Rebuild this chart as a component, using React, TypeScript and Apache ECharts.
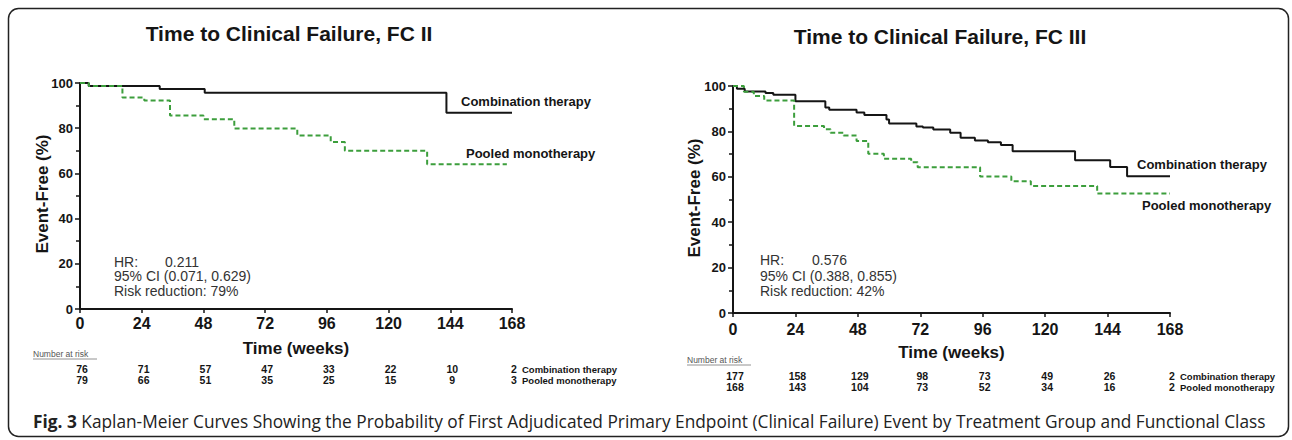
import React, { useEffect, useRef } from "react";
import * as echarts from "echarts";

// ---------- data ----------
const weekTicks = [0, 24, 48, 72, 96, 120, 144, 168];

// FC II
const fc2ComboTimes = [0, 3.4, 31, 48.5, 142.5, 168];
const fc2ComboValues = [100, 98.7, 97.3, 95.7, 86.8, 86.8];
const fc2PooledTimes = [0, 3.4, 16.5, 25, 35, 48, 60, 84.5, 97.5, 103, 135, 166];
const fc2PooledValues = [100, 98.7, 93.6, 92.3, 85.6, 84.0, 79.9, 76.8, 73.9, 70.0, 64.0, 64.0];

// FC III
const fc3ComboTimes = [0, 1.5, 4.5, 12.5, 15.5, 24, 35.5, 37, 47.5, 50.5, 59, 60, 70.5, 73, 77, 83.5, 87.5, 93, 98, 103, 107.5, 131.5, 145, 151.5, 168];
const fc3ComboValues = [100, 98.8, 97.6, 96.9, 96.2, 93.3, 90.5, 89.5, 88.3, 87.2, 85.2, 83.5, 82.2, 81.7, 80.8, 79.4, 77.2, 76.0, 75.2, 74.0, 71.3, 67.3, 64.3, 60.2, 60.2];
const fc3PooledTimes = [0, 4.2, 8, 12, 23.5, 35, 37.5, 42.5, 47.5, 52, 58, 68.5, 71, 95, 107, 114.5, 140, 168];
const fc3PooledValues = [100, 97.5, 95.6, 93.6, 82.4, 81.0, 79.4, 78.2, 75.8, 70.2, 67.9, 66.4, 64.2, 60.1, 58.0, 56.0, 52.6, 52.6];

const fc2RiskCombo = [76, 71, 57, 47, 33, 22, 10, 2];
const fc2RiskPooled = [79, 66, 51, 35, 25, 15, 9, 3];
const fc3RiskCombo = [177, 158, 129, 98, 73, 49, 26, 2];
const fc3RiskPooled = [168, 143, 104, 73, 52, 34, 16, 2];

const panelTitles = ["Time to Clinical Failure, FC II", "Time to Clinical Failure, FC III"];
const hrValues = ["0.211", "0.576"];
const ciTexts = ["95% CI (0.071, 0.629)", "95% CI (0.388, 0.855)"];
const riskReductionTexts = ["Risk reduction: 79%", "Risk reduction: 42%"];
const groupNames = ["Combination therapy", "Pooled monotherapy"];
const captionBold = "Fig. 3";
const captionText =
  " Kaplan-Meier Curves Showing the Probability of First Adjudicated Primary Endpoint (Clinical Failure) Event by Treatment Group and Functional Class";

const FONT = "'Liberation Sans', Arial, Helvetica, sans-serif";
const CAPTION_FONT = "'Open Sans', 'Noto Sans', sans-serif";
const BLACK = "#151515";
const GREEN = "#3c9e3c";

const pairs = (t: number[], v: number[]) => t.map((x, i) => [x, v[i]]);

export default function App() {
  const ref = useRef<HTMLDivElement>(null);

  useEffect(() => {
    document.body.style.margin = "0";
    if (!ref.current) return;
    const chart = echarts.init(ref.current, undefined, { renderer: "svg" });

    const grids = [
      { left: 80, top: 83, width: 432, height: 226 },
      { left: 733, top: 86, width: 437, height: 227 },
    ];
    const labelMargins = [6, 8];

    const xAxes = grids.map((_, i) => ({
      type: "value",
      gridIndex: i,
      min: 0,
      max: 168,
      interval: 24,
      axisLine: { show: true, onZero: false, lineStyle: { color: BLACK, width: 2 } },
      axisTick: { show: true, length: 4, lineStyle: { color: BLACK, width: 1.5 } },
      axisLabel: {
        margin: labelMargins[i],
        fontSize: 16,
        fontWeight: "bold",
        color: BLACK,
        fontFamily: FONT,
      },
      splitLine: { show: false },
    }));

    const yAxes = grids.map((_, i) => ({
      type: "value",
      gridIndex: i,
      min: 0,
      max: 100,
      interval: 20,
      axisLine: { show: true, lineStyle: { color: BLACK, width: 2 } },
      axisTick: { show: true, length: 5, lineStyle: { color: BLACK, width: 1.5 } },
      minorTick: { show: true, splitNumber: 2, length: 4, lineStyle: { color: BLACK, width: 1.5 } },
      axisLabel: { margin: 7, fontSize: 13, fontWeight: "bold", color: BLACK, fontFamily: FONT },
      splitLine: { show: false },
      minorSplitLine: { show: false },
    }));

    const combo = (idx: number, data: number[][]) => ({
      type: "line",
      xAxisIndex: idx,
      yAxisIndex: idx,
      data,
      step: "end",
      symbol: "none",
      lineStyle: { color: BLACK, width: 2 },
      z: 2,
    });
    const pooled = (idx: number, data: number[][]) => ({
      type: "line",
      xAxisIndex: idx,
      yAxisIndex: idx,
      data,
      step: "end",
      symbol: "none",
      lineStyle: { color: GREEN, width: 2, type: [5, 3] },
      z: 3,
    });

    chart.setOption({
      animation: false,
      grid: grids,
      xAxis: xAxes,
      yAxis: yAxes,
      series: [
        combo(0, pairs(fc2ComboTimes, fc2ComboValues)),
        pooled(0, pairs(fc2PooledTimes, fc2PooledValues)),
        combo(1, pairs(fc3ComboTimes, fc3ComboValues)),
        pooled(1, pairs(fc3PooledTimes, fc3PooledValues)),
      ],
    });

    // graphic texts positioned through the axes' scales
    const g: any[] = [];
    const txt = (x: number, y: number, text: string, opts: any = {}) =>
      g.push({
        type: "text",
        x,
        y,
        rotation: opts.rotation || 0,
        silent: true,
        style: {
          text,
          fill: opts.fill || BLACK,
          fontFamily: opts.fontFamily || FONT,
          fontSize: opts.fontSize || 12,
          fontWeight: opts.fontWeight || "normal",
          align: opts.align || "left",
          verticalAlign: opts.verticalAlign || "middle",
        },
      });

    // frame
    g.push({
      type: "rect",
      silent: true,
      shape: { x: 8.5, y: 8.5, width: 1280, height: 428, r: 10 },
      style: { fill: "none", stroke: "#222", lineWidth: 1.5 },
    });

    const layout = [
      { title: [289, 33], yname: [42, 194], hrY: [261.5, 276, 290.5], hrX: [114, 165], comboLbl: [461, 101], pooledLbl: [466, 153], nar: [33, 354], rows: [369, 380] },
      { title: [940, 36], yname: [694, 198], hrY: [260, 275.5, 291], hrX: [760, 812], comboLbl: [1137, 164], pooledLbl: [1142, 205], nar: [687, 360], rows: [376, 387] },
    ];
    const risks = [
      [fc2RiskCombo, fc2RiskPooled],
      [fc3RiskCombo, fc3RiskPooled],
    ];

    layout.forEach((L, i) => {
      txt(L.title[0], L.title[1], panelTitles[i], { fontSize: 21, fontWeight: "bold", align: "center" });
      txt(L.yname[0], L.yname[1], "Event-Free (%)", {
        fontSize: 17,
        fontWeight: "bold",
        align: "center",
        rotation: Math.PI / 2,
      });
      const mid = grids[i].left + grids[i].width / 2;
      const axisY = grids[i].top + grids[i].height;
      txt(mid, axisY + 39, "Time (weeks)", { fontSize: 17, fontWeight: "bold", align: "center" });

      const statStyle = { fontSize: 14, fill: "#333" };
      txt(L.hrX[0], L.hrY[0], "HR:", statStyle);
      txt(L.hrX[1], L.hrY[0], hrValues[i], statStyle);
      txt(L.hrX[0], L.hrY[1], ciTexts[i], statStyle);
      txt(L.hrX[0], L.hrY[2], riskReductionTexts[i], statStyle);

      txt(L.comboLbl[0], L.comboLbl[1], groupNames[0], { fontSize: 13, fontWeight: "bold" });
      txt(L.pooledLbl[0], L.pooledLbl[1], groupNames[1], { fontSize: 13, fontWeight: "bold" });

      // number at risk
      txt(L.nar[0], L.nar[1], "Number at risk", { fontSize: 8.5, fill: "#555" });
      g.push({
        type: "line",
        silent: true,
        shape: { x1: L.nar[0], y1: L.nar[1] + 5, x2: L.nar[0] + 64, y2: L.nar[1] + 5 },
        style: { stroke: "#777", lineWidth: 0.8 },
      });
      weekTicks.forEach((w, k) => {
        const px = chart.convertToPixel({ xAxisIndex: i }, w) as number;
        txt(px + 2, L.rows[0], String(risks[i][0][k]), { fontSize: 10.5, fontWeight: "bold", align: "center" });
        txt(px + 2, L.rows[1], String(risks[i][1][k]), { fontSize: 10.5, fontWeight: "bold", align: "center" });
      });
      const endPx = chart.convertToPixel({ xAxisIndex: i }, 168) as number;
      txt(endPx + 10, L.rows[0], groupNames[0], { fontSize: 9.5, fontWeight: "bold" });
      txt(endPx + 10, L.rows[1], groupNames[1], { fontSize: 9.5, fontWeight: "bold" });
    });

    // caption
    g.push({
      type: "text",
      x: 33,
      y: 421,
      silent: true,
      style: {
        text: "{b|" + captionBold + "}" + captionText,
        fill: "#222",
        fontFamily: CAPTION_FONT,
        fontSize: 17.3,
        verticalAlign: "middle",
        rich: {
          b: { fontWeight: "bold", fontFamily: CAPTION_FONT, fontSize: 17.3, fill: "#222" },
        },
      },
    });

    chart.setOption({ graphic: g });

    return () => chart.dispose();
  }, []);

  return <div ref={ref} style={{ width: 1292, height: 440 }} />;
}
